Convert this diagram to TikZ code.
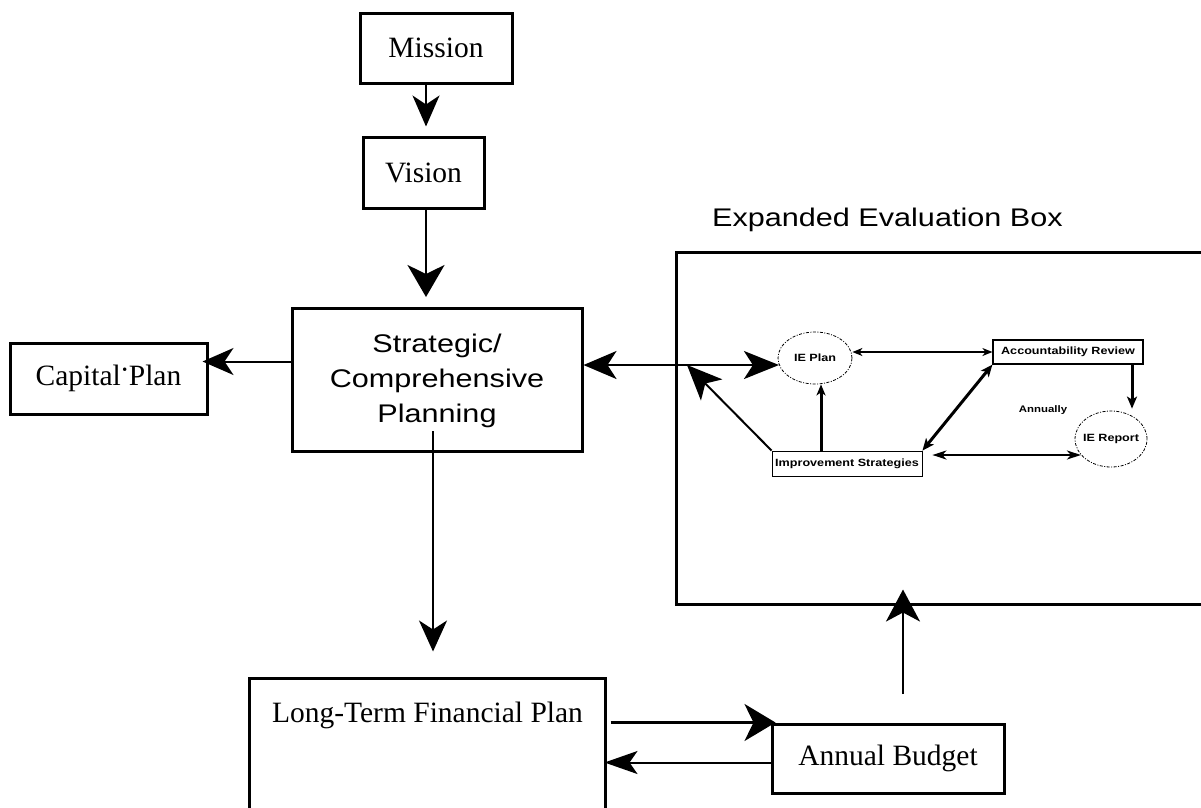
\documentclass[tikz,border=0pt]{standalone}
\usepackage{fontspec}
\setmainfont{Liberation Serif}
\newfontfamily\arialf{Liberation Sans}
\usetikzlibrary{arrows.meta,shapes.geometric,calc}
\newcommand{\smtxt}[1]{\scalebox{1.2}[1]{#1}}
\begin{document}
\begin{tikzpicture}[x=1pt,y=-1pt,
  box/.style={draw,line width=3pt,rectangle,inner sep=0pt},
  serif/.style={font=\fontsize{29.5}{34}\selectfont},
  sans/.style={font=\fontsize{25.5}{35}\selectfont\arialf},
  small/.style={font=\fontsize{10.5}{12}\selectfont\arialf\bfseries},
  ell/.style={ellipse,draw,line width=0.8pt,dash pattern=on 3pt off 1.5pt on 1pt off 1.5pt,inner sep=0pt,small},
  conn/.style={line width=2pt},
  BigHead/.tip={Stealth[length=31pt,width=27pt,inset=9pt]},
  SmallHead/.tip={Stealth[length=11pt,width=9pt,inset=3pt]}
]
\useasboundingbox (0,0) rectangle (1201,807);
\clip (0,0) rectangle (1201,807);

% main boxes
\node[box,minimum width=152pt,minimum height=70pt,serif] (M) at (436,48) {Mission};
\node[box,minimum width=121pt,minimum height=71pt,serif] (V) at (423.5,172.5) {Vision};
\node[box,minimum width=290pt,minimum height=143pt,sans] (S) at (437,380)
  {\smtxt{\begin{tabular}{@{}c@{}}Strategic/\\Comprehensive\\Planning\end{tabular}}};
\node[box,minimum width=197pt,minimum height=71pt,serif] (CP) at (108.5,378.5)
  {Capital\makebox[8pt]{\raisebox{0.22em}{·}}Plan\hspace{13pt}};
\node[box,minimum width=356pt,minimum height=152pt] (LT) at (427,754) {};
\node[serif,inner sep=0pt] (LTt) at (427.5,715) {Long-Term Financial Plan};
\node[box,minimum width=232pt,minimum height=69pt,serif] (AB) at (888,758.5) {Annual Budget\hspace{12pt}};
\node[box,minimum width=560pt,minimum height=352pt] (EB) at (956,428) {};
\node[sans,anchor=west,inner sep=0pt] (T) at (712,220) {\smtxt{Expanded Evaluation Box}};

% expanded evaluation contents
\node[ell,minimum width=74pt,minimum height=52pt] (IEP) at (815,358) {\makebox[0pt]{\smtxt{IE Plan}}};
\node[rectangle,draw,line width=1.2pt,minimum width=150pt,minimum height=24pt,inner sep=0pt,small] (AR) at (1068,352) {\smtxt{Accountability Review}};
\node[ell,minimum width=72pt,minimum height=56pt] (IER) at (1111,439) {\makebox[0pt]{\smtxt{IE Report}}};
\node[rectangle,draw,line width=0.8pt,minimum width=150pt,minimum height=25pt,inner sep=0pt,small] (IS) at (847,463.5) {\smtxt{Improvement Strategies}};
\node[font=\fontsize{9.5}{11}\selectfont\arialf\bfseries,inner sep=0pt] (AN) at (1043,410) {\smtxt{Annually}};

\coordinate (eL) at (687,365);
\coordinate (abU) at (903,694);

% main connectors
\draw[conn,-BigHead,shorten >=9pt] ([xshift=-10pt]M.south) -- ([xshift=-10pt]M.south |- V.north);
\draw[conn,line width=2.5pt,-{Stealth[length=32pt,width=37pt,inset=9pt]},shorten >=10pt]
  ([xshift=2.5pt]V.south) -- ([xshift=2.5pt]V.south |- S.north);
\draw[conn,-BigHead,shorten >=-6pt] ([yshift=18.5pt]S.west) -- ([yshift=17pt]CP.east);
\draw[conn,line width=2.5pt,{Stealth[length=33pt,width=28pt,inset=9pt]}-{Stealth[length=35pt,width=28pt,inset=9pt]}]
  (S.east |- IEP.191) -- (IEP.191);
\draw[conn,-{Stealth[length=35pt,width=30pt,inset=9pt]}] (IS.north west) -- (eL);
\draw[conn,-{Stealth[length=31pt,width=28pt,inset=9pt]},shorten >=25pt]
  ([xshift=-4pt,yshift=22pt]S.south) -- ([xshift=-4pt]S.south |- LT.north);
\draw[conn,line width=2.5pt,-{Stealth[length=31pt,width=37pt,inset=9pt]},shorten <=4pt]
  (LT.east |- AB.north) -- ([xshift=5pt]AB.north west);
\draw[conn,-{Stealth[length=33pt,width=23pt,inset=8pt]},shorten >=-2pt]
  ([yshift=-4pt]AB.west) -- ([yshift=-4pt]AB.west -| LT.east);
\draw[conn,-{Stealth[length=32pt,width=34pt,inset=9pt]},shorten >=-16pt] (abU) -- (abU |- EB.south);

% inner connectors
\draw[line width=1.5pt,{Stealth[length=10pt,width=8pt,inset=3pt]}-{Stealth[length=10pt,width=8pt,inset=3pt]}]
  (AR.west -| IEP.east) -- (AR.west);
\draw[line width=3pt,-{Stealth[length=12pt,width=10pt,inset=3pt]},shorten >=2pt]
  ([xshift=64pt]AR.south) -- ([xshift=64pt]AR.south |- IER.north);
\draw[line width=3pt,{Stealth[length=12pt,width=10pt,inset=3pt]}-{Stealth[length=12pt,width=10pt,inset=3pt]}]
  (AR.south west) -- (IS.north east);
\draw[line width=3pt,-SmallHead] ([xshift=6pt]IEP.south |- IS.north) -- ([xshift=6pt]IEP.south);
\draw[line width=2pt,{Stealth[length=14pt,width=9pt,inset=4pt]}-{Stealth[length=14pt,width=9pt,inset=4pt]}]
  ([xshift=10pt]IS.east |- IER.208) -- (IER.208);
\end{tikzpicture}
\end{document}
